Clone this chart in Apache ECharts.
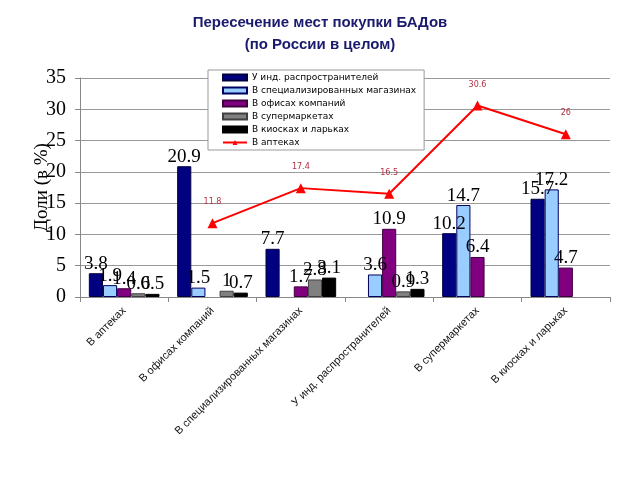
<!DOCTYPE html>
<html><head><meta charset="utf-8">
<script src="https://cdn.jsdelivr.net/npm/echarts@6/dist/echarts.min.js"></script>
<style>html,body{margin:0;padding:0;background:#fff}#c{width:640px;height:480px}</style>
</head><body><div id="c"></div>
<script>
const categories = ['В аптеках','В офисах компаний','В специализированных магазинах','У инд. распространителей','В супермаркетах','В киосках и ларьках'];
const seriesNames = ['У инд. распространителей','В специализированных магазинах','В офисах компаний','В супермаркетах','В киосках и ларьках','В аптеках'];
const indDistributors = [3.8, 20.9, 7.7, null, 10.2, 15.7];
const specShops = [1.9, 1.5, null, 3.6, 14.7, 17.2];
const companyOffices = [1.4, null, 1.7, 10.9, 6.4, 4.7];
const supermarkets = [0.6, 1.0, 2.8, 0.9, null, null];
const kiosks = [0.5, 0.7, 3.1, 1.3, null, null];
const pharmacies = [null, 11.8, 17.4, 16.5, 30.6, 26];
const yTicks = [0, 5, 10, 15, 20, 25, 30, 35];

const barColors = ['#000080', '#99CCFF', '#800080', '#808080', '#000000'];
const barBorders = ['#000040', '#000060', '#400040', '#404040', '#000000'];
const barData = [indDistributors, specShops, companyOffices, supermarkets, kiosks];

const series = barData.map((d, i) => ({
  name: seriesNames[i], type: 'bar', data: d.map(v => v === null ? '-' : v),
  barGap: '0%', barCategoryGap: '20%',
  itemStyle: { color: barColors[i], borderColor: barBorders[i], borderWidth: 1 },
  label: { show: true, position: 'top', distance: 0, fontFamily: 'Liberation Serif', fontSize: 19, color: '#000' }
}));
series.push({
  name: seriesNames[5], type: 'line', data: pharmacies.map(v => v === null ? '-' : v),
  color: '#FF0000', lineStyle: { color: '#FF0000', width: 2 },
  symbol: 'triangle', symbolSize: 10, itemStyle: { color: '#FF0000' },
  label: { show: true, position: 'top', distance: 12, fontFamily: 'DejaVu Sans', fontSize: 8, color: '#B03040' },
  z: 5
});

const chart = echarts.init(document.getElementById('c'));
chart.setOption({
  animation: false,
  backgroundColor: '#fff',
  title: {
    text: 'Пересечение мест покупки БАДов\n(по России в целом)',
    left: 'center', top: 7,
    textStyle: { fontFamily: 'Liberation Sans', fontWeight: 'bold', fontSize: 15, color: '#1a1a6e', lineHeight: 22 }
  },
  legend: {
    orient: 'vertical', left: 208, top: 70,
    backgroundColor: '#fff', borderColor: '#999', borderWidth: 1,
    padding: [3, 8, 3, 14], itemGap: 4, itemWidth: 24, itemHeight: 6,
    data: seriesNames.map((n, i) => i < 5 ? { name: n, icon: 'rect' } : { name: n }),
    textStyle: { fontFamily: 'DejaVu Sans', fontSize: 9, color: '#000' }
  },
  grid: { left: 80, right: 30, top: 78, bottom: 183 },
  xAxis: {
    type: 'category', data: categories,
    axisLine: { lineStyle: { color: '#888' } },
    axisTick: { show: true, alignWithLabel: false, lineStyle: { color: '#888' } },
    axisLabel: { rotate: 45, interval: 0, fontFamily: 'Liberation Sans', fontSize: 11, color: '#111', margin: 12 }
  },
  yAxis: {
    type: 'value', min: yTicks[0], max: yTicks[yTicks.length - 1], interval: 5,
    name: 'Доли (в %)', nameLocation: 'middle', nameGap: 28, nameMoveOverlap: false,
    nameTextStyle: { fontFamily: 'Liberation Serif', fontSize: 19, color: '#000' },
    axisLine: { show: true, lineStyle: { color: '#888' } },
    axisTick: { show: true, lineStyle: { color: '#888' } },
    splitLine: { lineStyle: { color: '#999' } },
    axisLabel: { fontFamily: 'Liberation Serif', fontSize: 20, color: '#000', margin: 14 }
  },
  series: series
});
</script></body></html>
